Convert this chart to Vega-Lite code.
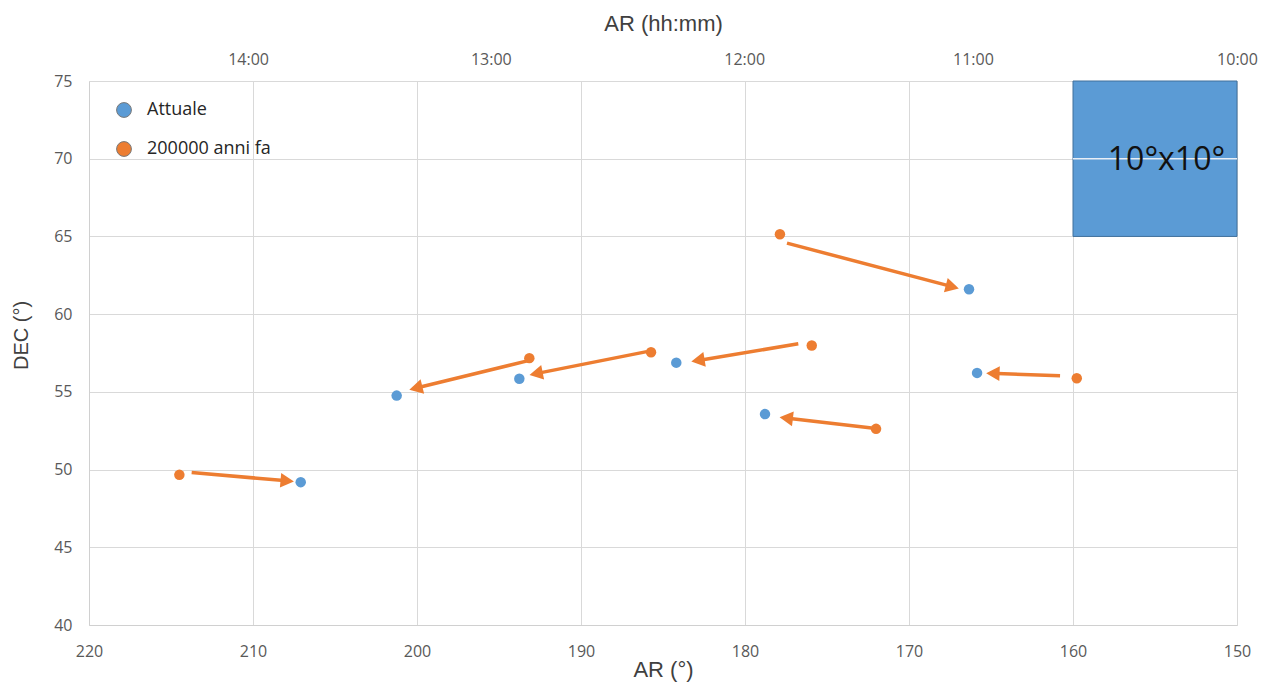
{
  "$schema": "https://vega.github.io/schema/vega-lite/v6.json",
  "width": 1148,
  "height": 544,
  "autosize": "none",
  "padding": {"left": 89, "top": 81, "right": 26, "bottom": 65},
  "background": "white",
  "config": {
    "view": {"stroke": null},
    "font": "Open Sans",
    "axis": {
      "labelFont": "Open Sans",
      "labelFontSize": 16,
      "labelColor": "#595959",
      "labelFlush": false,
      "labelOverlap": false,
      "titleFont": "Liberation Sans",
      "titleFontSize": 22,
      "titleFontWeight": "normal",
      "titleColor": "#404040",
      "ticks": false,
      "gridColor": "#d9d9d9",
      "gridWidth": 1,
      "domainColor": "#d0d0d0"
    }
  },
  "datasets": {
    "square": [{"ar1": 160, "ar2": 150, "dec1": 65, "dec2": 75, "label": "10°x10°", "ar_t": 154.3, "dec_t": 69.9, "grid_dec": 70}],
    "stars": [
      {"serie": "Attuale", "ar": 166.34, "dec": 61.6},
      {"serie": "Attuale", "ar": 165.85, "dec": 56.22},
      {"serie": "Attuale", "ar": 178.78, "dec": 53.57},
      {"serie": "Attuale", "ar": 184.19, "dec": 56.88},
      {"serie": "Attuale", "ar": 193.76, "dec": 55.84},
      {"serie": "Attuale", "ar": 201.24, "dec": 54.76},
      {"serie": "Attuale", "ar": 207.09, "dec": 49.19},
      {"serie": "200000 anni fa", "ar": 177.87, "dec": 65.14},
      {"serie": "200000 anni fa", "ar": 159.77, "dec": 55.88},
      {"serie": "200000 anni fa", "ar": 172.01, "dec": 52.62},
      {"serie": "200000 anni fa", "ar": 175.93, "dec": 57.98},
      {"serie": "200000 anni fa", "ar": 185.73, "dec": 57.55},
      {"serie": "200000 anni fa", "ar": 193.15, "dec": 57.17},
      {"serie": "200000 anni fa", "ar": 214.49, "dec": 49.66}
    ],
    "arrows": [
      {"ar_from": 177.44, "dec_from": 64.57, "ar_to": 167.2, "dec_to": 61.72},
      {"ar_from": 160.79, "dec_from": 56.03, "ar_to": 165.05, "dec_to": 56.19},
      {"ar_from": 172.27, "dec_from": 52.67, "ar_to": 177.65, "dec_to": 53.33},
      {"ar_from": 176.75, "dec_from": 58.09, "ar_to": 183.03, "dec_to": 56.99},
      {"ar_from": 185.99, "dec_from": 57.59, "ar_to": 192.9, "dec_to": 56.14},
      {"ar_from": 193.21, "dec_from": 57.01, "ar_to": 200.23, "dec_to": 55.2},
      {"ar_from": 213.74, "dec_from": 49.81, "ar_to": 207.75, "dec_to": 49.26}
    ]
  },
  "resolve": {"axis": {"x": "independent"}},
  "layer": [
    {
      "data": {"name": "square"},
      "mark": {"type": "rect", "fill": "#5B9BD5", "stroke": "#41719C", "strokeWidth": 1},
      "encoding": {
        "x": {
          "field": "ar1", "type": "quantitative",
          "scale": {"domain": [150, 220], "reverse": true, "nice": false, "zero": false},
          "axis": {"orient": "bottom", "values": [150, 160, 170, 180, 190, 200, 210, 220], "title": "AR (°)", "labelPadding": 18, "titlePadding": 0, "grid": true, "domain": true}
        },
        "x2": {"field": "ar2"},
        "y": {
          "field": "dec1", "type": "quantitative",
          "scale": {"domain": [40, 75], "nice": false, "zero": false},
          "axis": {"values": [40, 45, 50, 55, 60, 65, 70, 75], "title": "DEC (°)", "titleFontSize": 20, "titleY": 254, "labelPadding": 17, "titlePadding": 22, "grid": true, "domain": true}
        },
        "y2": {"field": "dec2"}
      }
    },
    {
      "data": {"name": "square"},
      "mark": {"type": "rule", "color": "#e8eef6", "strokeWidth": 1.5},
      "encoding": {
        "x": {"field": "ar1", "type": "quantitative", "axis": null},
        "x2": {"field": "ar2"},
        "y": {"field": "grid_dec", "type": "quantitative", "title": "DEC (°)"}
      }
    },
    {
      "data": {"name": "square"},
      "mark": {"type": "text", "font": "Open Sans", "fontSize": 32, "color": "#111111", "align": "center", "baseline": "middle"},
      "encoding": {
        "x": {"field": "ar_t", "type": "quantitative", "axis": null},
        "y": {"field": "dec_t", "type": "quantitative", "title": "DEC (°)"},
        "text": {"field": "label"}
      }
    },
    {
      "data": {"name": "arrows"},
      "mark": {"type": "rule", "color": "#ED7D31", "strokeWidth": 3.5},
      "encoding": {
        "x": {"field": "ar_from", "type": "quantitative", "axis": null},
        "y": {"field": "dec_from", "type": "quantitative", "title": "DEC (°)"},
        "x2": {"field": "ar_to"},
        "y2": {"field": "dec_to"}
      }
    },
    {
      "data": {"name": "arrows"},
      "transform": [
        {"calculate": "atan2(-(datum.ar_to - datum.ar_from) * 16.4, (datum.dec_to - datum.dec_from) * 15.55) * 180 / PI", "as": "heading"}
      ],
      "mark": {"type": "point", "shape": "M0,-0.3 L-0.55,0.7 L0.55,0.7 Z", "filled": true, "color": "#ED7D31", "opacity": 1, "size": 720},
      "encoding": {
        "x": {"field": "ar_to", "type": "quantitative", "axis": null},
        "y": {"field": "dec_to", "type": "quantitative", "title": "DEC (°)"},
        "angle": {"field": "heading", "type": "quantitative", "scale": null}
      }
    },
    {
      "data": {"name": "stars"},
      "mark": {"type": "circle", "size": 110, "opacity": 1},
      "encoding": {
        "x": {
          "field": "ar", "type": "quantitative",
          "axis": {"orient": "top", "values": [210.3, 195.5, 180.05, 166.1, 150], "labelExpr": "round(datum.value / 15) + ':00'", "title": "AR (hh:mm)", "labelPadding": 14, "titlePadding": 16, "grid": false, "domain": false}
        },
        "y": {"field": "dec", "type": "quantitative", "title": "DEC (°)"},
        "color": {
          "field": "serie", "type": "nominal",
          "scale": {"domain": ["Attuale", "200000 anni fa"], "range": ["#5B9BD5", "#ED7D31"]},
          "legend": {
            "title": null,
            "orient": "none",
            "legendX": 26,
            "legendY": 20,
            "symbolType": "circle",
            "symbolSize": 220,
            "symbolStrokeColor": "#7a7a7a",
            "symbolStrokeWidth": 1,
            "labelFont": "Open Sans",
            "labelFontSize": 18,
            "labelColor": "#262626",
            "labelOffset": 14,
            "rowPadding": 19
          }
        }
      }
    }
  ]
}
